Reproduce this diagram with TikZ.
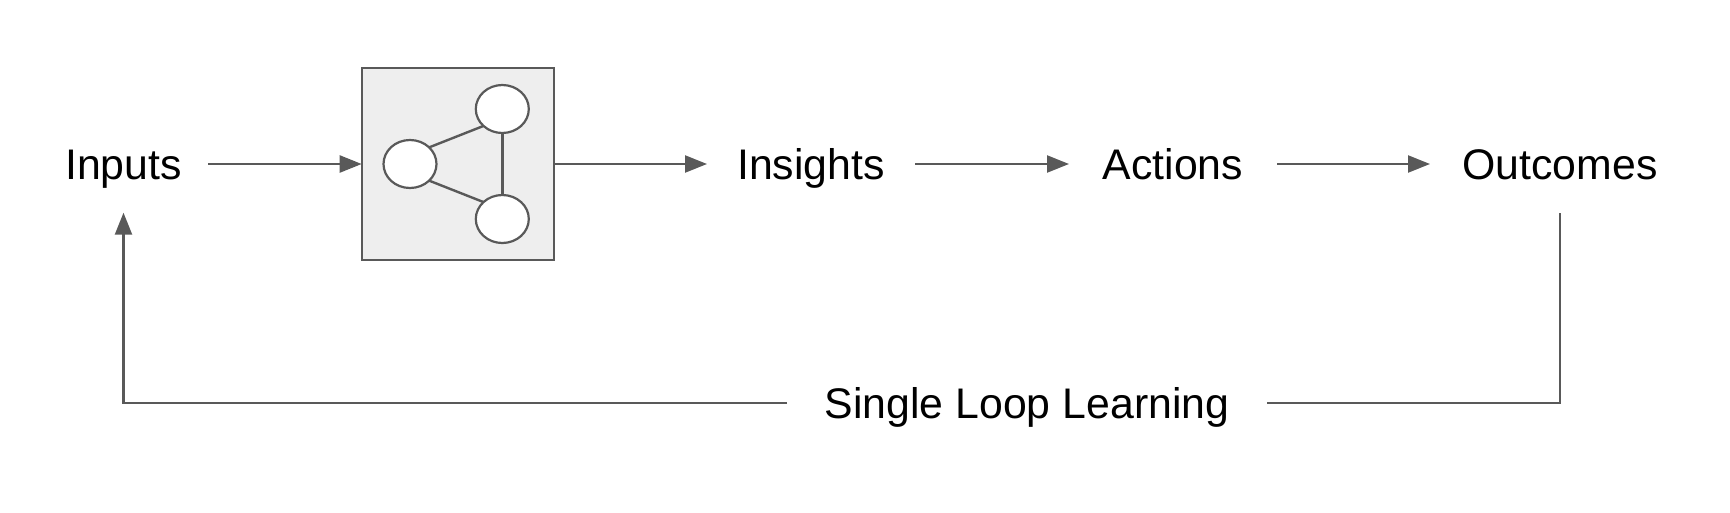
\documentclass[tikz,border=0pt]{standalone}
\usepackage{fontspec}
\setmainfont{Liberation Sans}
\usetikzlibrary{arrows.meta,shapes.geometric}
\definecolor{linegrey}{HTML}{595959}
\definecolor{boxgrey}{HTML}{EEEEEE}
\tikzset{
  x=1pt,y=-1pt,
  conn/.style={draw=linegrey,line width=2.4pt},
  arrowconn/.style={conn,-{Triangle[length=22pt,width=17pt,sep=0pt]}},
  label/.style={font=\fontsize{42.8}{51}\selectfont,text=black,inner sep=0pt,outer sep=0pt,
    text height=38pt,text depth=8pt,minimum height=97.4pt,anchor=center},
  panel/.style={draw=linegrey,fill=boxgrey,line width=2.4pt,inner sep=0pt,outer sep=0pt,
    minimum width=192pt,minimum height=191.7pt},
  blob/.style={ellipse,draw=linegrey,fill=white,line width=2.2pt,inner sep=0pt,outer sep=0pt,
    minimum width=53pt,minimum height=48pt},
}
\begin{document}
\begin{tikzpicture}
\useasboundingbox (0,0) rectangle (1730,512);
\node[label,minimum width=169pt] (inputs) at (123.5,164) {Inputs};
\node[panel] (box) at (457.7,164) {};
\node[label,minimum width=208pt] (insights) at (811,164) {Insights};
\node[label,minimum width=208pt] (actions) at (1173,164) {Actions};
\node[label,minimum width=260pt] (outcomes) at (1560,164) {Outcomes};
\node[label,minimum width=480pt] (single) at (1027,403) {Single Loop Learning};
\node[blob] (left) at (410,164) {};
\node[blob] (top) at (502.3,109) {};
\node[blob] (bottom) at (502.3,219) {};
\draw[conn] (left.41) -- (top.222);
\draw[conn] (left.-41) -- (bottom.138);
\draw[conn] (top.south) -- (bottom.north);
\draw[arrowconn] (inputs.east) -- (box.west);
\draw[arrowconn] (box.east) -- (insights.west);
\draw[arrowconn] (insights.east) -- (actions.west);
\draw[arrowconn] (actions.east) -- (outcomes.west);
\draw[arrowconn] (single.west) -| (inputs.south);
\draw[conn] (single.east) -| (outcomes.south);
\end{tikzpicture}
\end{document}
